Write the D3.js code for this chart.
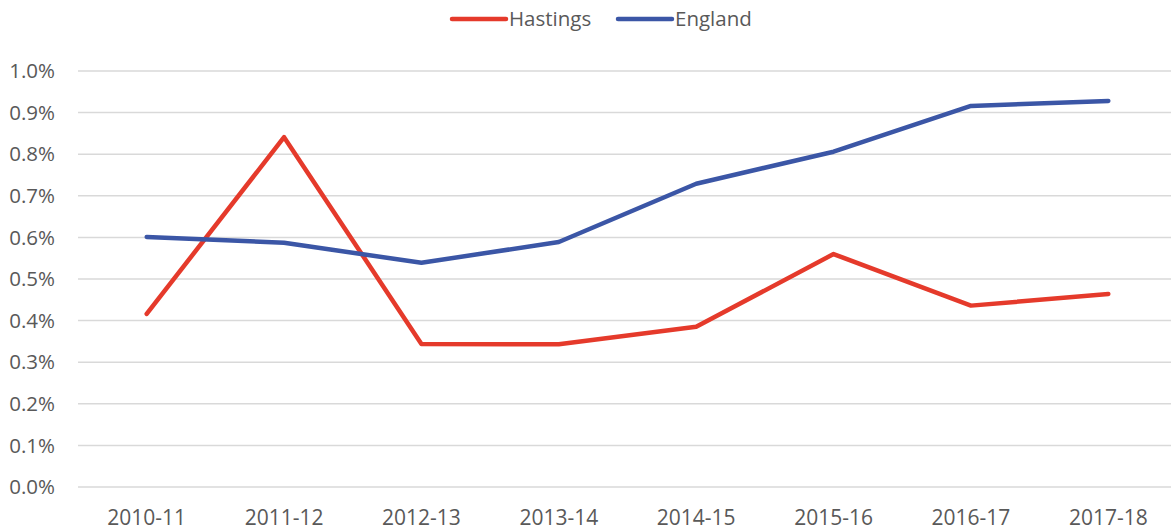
<!DOCTYPE html>
<html>
<head>
<meta charset="utf-8">
<script src="https://cdn.jsdelivr.net/npm/d3@7"></script>
<style>
  body { margin: 0; background: #fff; }
  text { font-family: "Open Sans", "Noto Sans", sans-serif; fill: #595959; }
</style>
</head>
<body>
<div class="wrapper"></div>
<script>
const years = ["2010-11", "2011-12", "2012-13", "2013-14", "2014-15", "2015-16", "2016-17", "2017-18"];
const hastings = [0.416, 0.841, 0.344, 0.343, 0.385, 0.560, 0.436, 0.464];
const england = [0.601, 0.587, 0.539, 0.589, 0.729, 0.806, 0.916, 0.928];
const yTicks = [0, 0.1, 0.2, 0.3, 0.4, 0.5, 0.6, 0.7, 0.8, 0.9, 1.0];

const width = 1171, height = 530;
const svg = d3.select(".wrapper")
  .append("svg")
  .attr("width", width)
  .attr("height", height);

const x = d3.scaleBand().domain(years).range([78, 1177]);
const y = d3.scaleLinear().domain([0, 1]).range([487, 71]);

// gridlines
svg.selectAll("line.grid")
  .data(yTicks)
  .enter()
  .append("line")
  .attr("class", "grid")
  .attr("x1", 78)
  .attr("x2", width)
  .attr("y1", d => y(d))
  .attr("y2", d => y(d))
  .attr("stroke", "#d9d9d9")
  .attr("stroke-width", 1.5);

// y labels
svg.selectAll("text.ylab")
  .data(yTicks)
  .enter()
  .append("text")
  .attr("class", "ylab")
  .attr("x", 55)
  .attr("y", d => y(d))
  .attr("dy", "0.35em")
  .attr("text-anchor", "end")
  .style("font-size", "20.5px")
  .text(d => d.toFixed(1) + "%");

// x labels
svg.selectAll("text.xlab")
  .data(years)
  .enter()
  .append("text")
  .attr("class", "xlab")
  .attr("x", d => x(d) + x.bandwidth() / 2)
  .attr("y", 518)
  .attr("dy", "0.35em")
  .attr("text-anchor", "middle")
  .style("font-size", "21px")
  .text(d => d);

const line = d3.line()
  .x((d, i) => x(years[i]) + x.bandwidth() / 2)
  .y(d => y(d));

const series = [
  { name: "Hastings", values: hastings, color: "#e53a2b" },
  { name: "England", values: england, color: "#3b56a6" }
];

series.forEach(s => {
  svg.append("path")
    .datum(s.values)
    .attr("d", line)
    .attr("fill", "none")
    .attr("stroke", s.color)
    .attr("stroke-width", 4.5)
    .attr("stroke-linejoin", "round")
    .attr("stroke-linecap", "round");
});

// legend
const legendX = [452, 618];
series.forEach((s, i) => {
  svg.append("line")
    .attr("x1", legendX[i])
    .attr("x2", legendX[i] + 54)
    .attr("y1", 19)
    .attr("y2", 19)
    .attr("stroke", s.color)
    .attr("stroke-width", 4.5)
    .attr("stroke-linecap", "round");
  svg.append("text")
    .attr("x", legendX[i] + 57)
    .attr("y", 19)
    .attr("dy", "0.35em")
    .style("font-size", "20.5px")
    .text(s.name);
});
</script>
</body>
</html>
